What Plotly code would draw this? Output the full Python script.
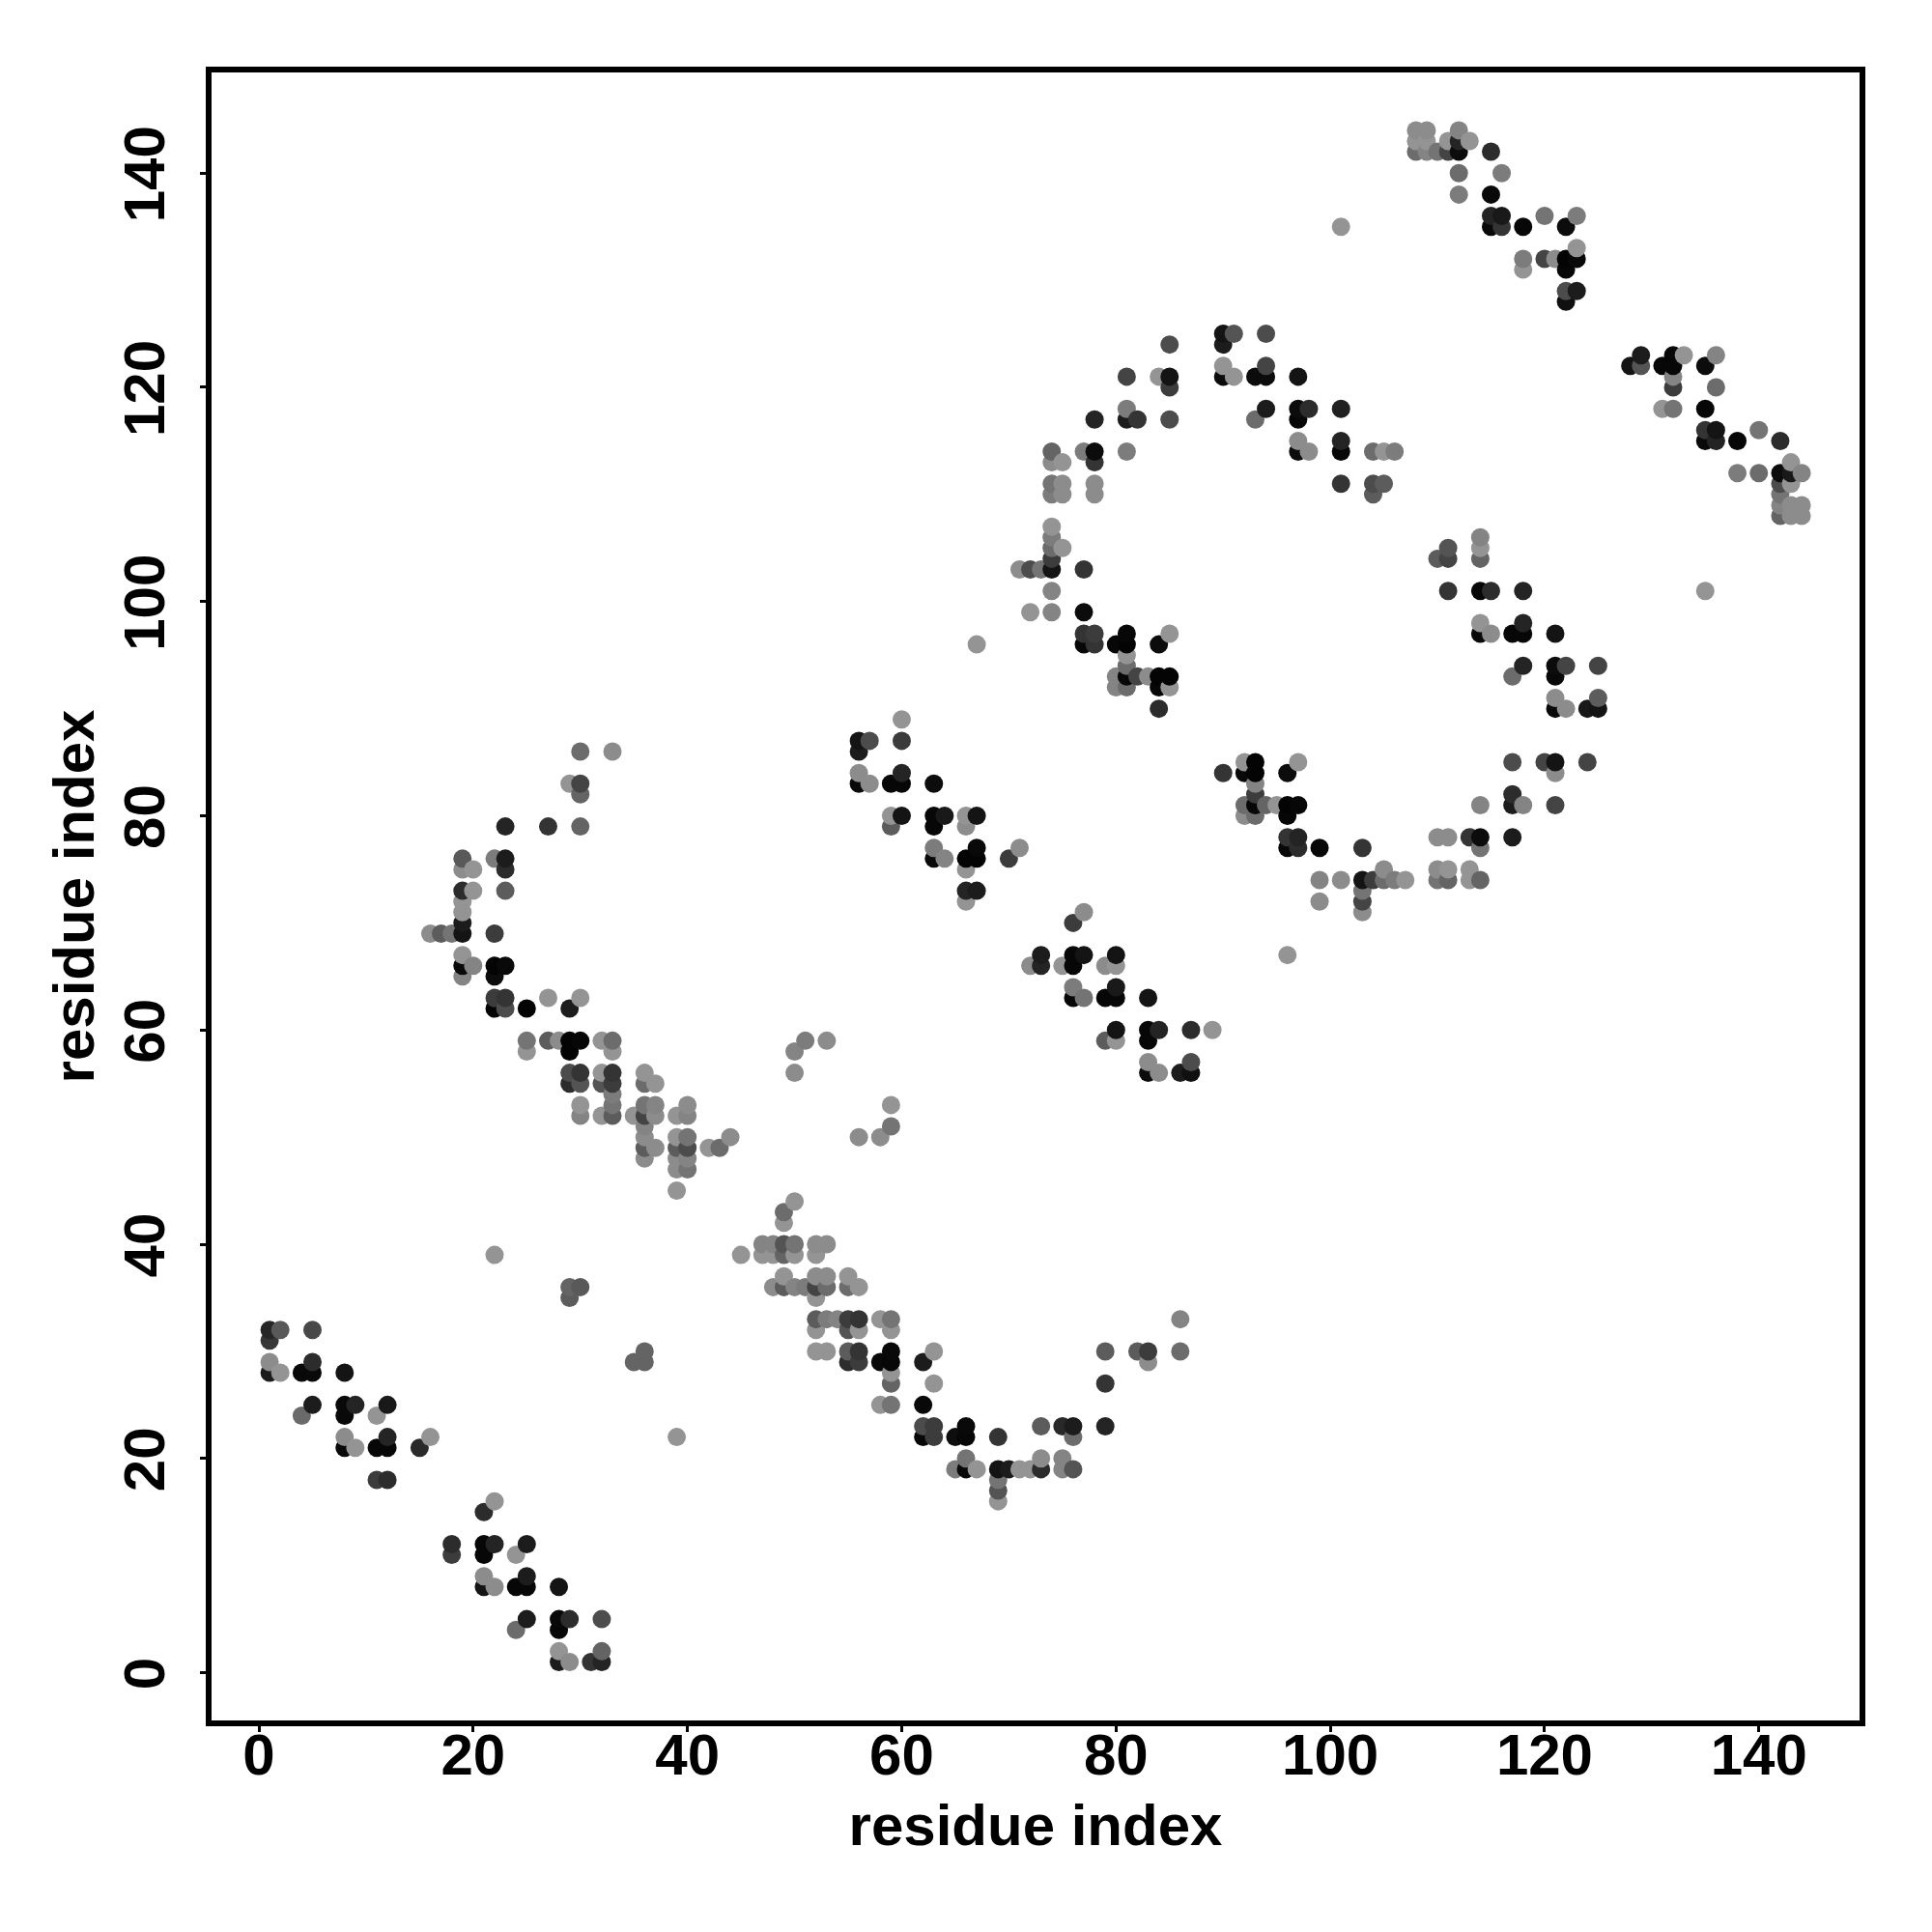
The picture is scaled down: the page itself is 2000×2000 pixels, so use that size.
import plotly.graph_objects as go

# (residue x, residue y, grey level), grouped by region
block_lower_left = [
(1,32,0x22),(2,32,0x55),(5,32,0x44),(1,31,0x33),(1,29,0x88),(2,28,0x90),(1,28,0x18),(4,28,0x05),(5,28,0x05),(5,29,0x28),(8,28,0x10),
(5,25,0x18),(4,24,0x66),(8,25,0x05),(9,25,0x20),(8,24,0x05),(12,25,0x15),(11,24,0x90),(8,22,0x88),(9,21,0x90),(8,21,0x05),(11,21,0x03),(12,21,0x03),(12,22,0x20),(15,21,0x25),(16,22,0x90),
(11,18,0x38),(12,18,0x28),(22,39,0x90),(29,36,0x60),(30,36,0x55),(29,35,0x58),(36,30,0x60),(35,29,0x60),(36,29,0x60),(39,22,0x90),
(22,16,0x90),(21,15,0x28),(18,12,0x28),(18,11,0x38),(21,12,0x03),(22,12,0x20),(21,11,0x03),(25,12,0x18),(24,11,0x90),(21,9,0x88),(22,8,0x88),(21,8,0x10),(24,8,0x03),(25,8,0x03),(25,9,0x18),(28,8,0x10),
(25,5,0x18),(24,4,0x68),(28,5,0x05),(29,5,0x28),(28,4,0x03),(32,5,0x48),(28,2,0x90),(29,1,0x88),(28,1,0x18),(31,1,0x30),(32,1,0x20),(32,2,0x60),
]
block_left_arc = [
(30,86,0x68),(33,86,0x88),(29,83,0x90),(30,83,0x40),(30,82,0x60),(23,79,0x20),(27,79,0x30),(30,79,0x60),
(19,76,0x55),(19,75,0x88),(20,75,0x90),(22,76,0x78),(23,76,0x18),(23,75,0x28),(19,73,0x28),(20,73,0x90),(23,73,0x58),
(19,72,0x90),(19,71,0x90),(19,70,0x18),(19,69,0x10),(22,69,0x38),(16,69,0x88),(17,69,0x58),(18,69,0x70),
(19,67,0x90),(19,66,0x05),(20,66,0x80),(19,65,0x80),(22,66,0x00),(23,66,0x05),(22,65,0x08),
(22,63,0x38),(23,63,0x30),(22,62,0x00),(23,62,0x48),(25,62,0x00),(27,63,0x90),(30,63,0x90),(29,62,0x18),
(25,59,0x70),(25,58,0x90),(27,59,0x58),(28,59,0x88),(29,59,0x00),(30,59,0x03),(29,58,0x00),(32,59,0x90),(33,59,0x68),(33,58,0x90),
(29,56,0x48),(30,56,0x30),(29,55,0x28),(30,55,0x50),(32,56,0x90),(33,56,0x30),(32,55,0x50),(33,55,0x38),(33,54,0x78),(33,53,0x70),(33,52,0x58),(32,52,0x90),(30,53,0x90),(30,52,0x80),
(36,56,0x90),(37,55,0x90),(36,55,0x68),(36,53,0x70),(37,53,0x80),(36,52,0x40),(37,52,0x88),(35,52,0x90),(36,51,0x80),(36,50,0x88),(36,49,0x58),(37,49,0x88),(36,48,0x88),
(40,53,0x88),(40,52,0x80),(39,52,0x90),(39,50,0x90),(40,50,0x70),(39,49,0x58),(40,49,0x48),(39,48,0x88),(40,48,0x80),(39,47,0x88),(40,47,0x70),(39,45,0x90),
(42,49,0x90),(43,49,0x68),(44,50,0x88),(51,59,0x78),(53,59,0x88),(50,58,0x80),(50,56,0x88),(50,44,0x90),(49,43,0x68),
]
block_lower_middle = [
(49,42,0x90),(47,40,0x80),(48,40,0x80),(49,40,0x50),(50,40,0x70),(52,40,0x88),(53,40,0x88),
(45,39,0x90),(47,39,0x90),(48,39,0x90),(49,39,0x60),(50,39,0x90),(52,39,0x90),
(49,37,0x90),(52,37,0x88),(53,37,0x88),(55,37,0x90),(48,36,0x88),(49,36,0x58),(50,36,0x80),(51,36,0x78),(52,36,0x40),(53,36,0x68),(55,36,0x68),(56,36,0x90),(52,35,0x90),
(52,33,0x58),(53,33,0x78),(54,33,0x80),(55,33,0x38),(56,33,0x30),(58,33,0x90),(59,33,0x70),(52,32,0x90),(55,32,0x50),(56,32,0x90),(59,32,0x90),
(52,30,0x90),(53,30,0x90),(55,30,0x58),(56,30,0x30),(59,30,0x05),(63,30,0x90),(55,29,0x28),(56,29,0x38),(58,29,0x05),(59,29,0x03),(62,29,0x18),(59,28,0x90),(59,27,0x60),(63,27,0x90),
(58,25,0x90),(59,25,0x70),(62,25,0x05),(62,23,0x48),(63,23,0x38),(66,23,0x05),(73,23,0x58),(75,23,0x25),(76,23,0x18),(79,23,0x20),
(62,22,0x03),(63,22,0x38),(65,22,0x0a),(66,22,0x03),(69,22,0x30),(76,22,0x68),(66,20,0x70),(73,20,0x88),(75,20,0x80),
(65,19,0x78),(66,19,0x05),(67,19,0x90),(69,19,0x10),(70,19,0x18),(71,19,0x90),(72,19,0x90),(73,19,0x28),(75,19,0x80),(76,19,0x50),
(69,18,0x70),(69,17,0x50),(69,16,0x90),(79,30,0x58),(82,30,0x58),(83,30,0x38),(83,29,0x88),(86,30,0x68),(86,33,0x80),(79,27,0x30),
]
block_center = [
(56,87,0x10),(57,87,0x48),(56,86,0x18),(60,87,0x38),(60,89,0x90),(56,84,0x88),(57,83,0x88),(56,83,0x05),(59,83,0x03),(60,83,0x03),(60,84,0x20),(63,83,0x08),
(59,80,0x90),(60,80,0x10),(63,80,0x03),(64,80,0x15),(66,80,0x90),(67,80,0x10),(59,79,0x58),(63,79,0x03),(66,79,0x88),
(63,77,0x78),(67,77,0x05),(71,77,0x88),(63,76,0x05),(64,76,0x80),(66,76,0x00),(67,76,0x00),(70,76,0x38),(66,75,0x90),(66,73,0x20),(67,73,0x18),(66,72,0x90),
(77,71,0x88),(76,70,0x38),(73,67,0x18),(76,67,0x03),(77,67,0x10),(80,67,0x10),(72,66,0x88),(73,66,0x20),(75,66,0x90),(76,66,0x03),(79,66,0x88),(80,66,0x90),
(76,64,0x78),(80,64,0x15),(76,63,0x03),(77,63,0x70),(79,63,0x03),(80,63,0x03),(83,63,0x10),(80,60,0x10),(83,60,0x03),(84,60,0x20),(87,60,0x28),(89,60,0x90),
(79,59,0x58),(80,59,0x90),(83,59,0x03),(83,57,0x88),(87,57,0x48),(83,56,0x08),(84,56,0x88),(86,56,0x18),(87,56,0x0c),
(59,53,0x90),(59,51,0x70),(58,50,0x88),(56,50,0x88),
]
block_upper_arc = [
(90,125,0x10),(91,125,0x50),(94,125,0x48),(85,124,0x48),(90,124,0x18),(90,122,0x90),(94,122,0x40),
(81,121,0x40),(84,121,0x90),(85,121,0x10),(90,121,0x08),(91,121,0x90),(93,121,0x08),(94,121,0x08),(97,121,0x10),(85,120,0x38),
(81,118,0x78),(94,118,0x18),(97,118,0x08),(98,118,0x28),(101,118,0x1c),(78,117,0x20),(81,117,0x18),(82,117,0x30),(85,117,0x48),(93,117,0x68),(97,117,0x03),
(97,115,0x88),(101,115,0x20),(74,114,0x60),(77,114,0x78),(78,114,0x08),(81,114,0x78),(97,114,0x08),(98,114,0x88),(101,114,0x03),(104,114,0x68),(105,114,0x90),(106,114,0x78),
(74,113,0x88),(75,113,0x90),(78,113,0x30),(74,111,0x70),(75,111,0x88),(78,111,0x88),(101,111,0x30),(104,111,0x48),(105,111,0x58),(74,110,0x78),(75,110,0x88),(78,110,0x88),(104,110,0x58),
(74,107,0x90),(74,106,0x78),(74,105,0x68),(75,105,0x90),(74,104,0x38),(74,103,0x10),(77,103,0x30),(71,103,0x88),(72,103,0x48),(73,103,0x70),(74,101,0x80),(72,99,0x90),(74,99,0x80),(77,99,0x08),
(77,97,0x30),(78,97,0x38),(81,97,0x03),(85,97,0x90),(77,96,0x03),(78,96,0x30),(80,96,0x03),(81,96,0x00),(84,96,0x08),(81,95,0x90),(81,94,0x68),
(80,93,0x80),(81,93,0x03),(82,93,0x40),(83,93,0x88),(84,93,0x00),(85,93,0x00),(80,92,0x80),(81,92,0x68),(84,92,0x03),(85,92,0x90),(84,90,0x28),(67,96,0x90),
]
block_right_arc = [
(114,106,0x80),(111,105,0x50),(114,105,0x90),(110,104,0x58),(111,104,0x40),(114,104,0x60),(111,101,0x30),(114,101,0x03),(115,101,0x28),(118,101,0x20),
(114,98,0x90),(118,98,0x20),(114,97,0x05),(115,97,0x88),(117,97,0x03),(118,97,0x03),(121,97,0x10),(118,94,0x20),(121,94,0x08),(122,94,0x40),(125,94,0x40),(117,93,0x68),(121,93,0x05),
(121,91,0x88),(125,91,0x58),(121,90,0x05),(122,90,0x88),(124,90,0x15),(125,90,0x10),
(117,85,0x48),(120,85,0x40),(121,85,0x10),(124,85,0x40),(92,85,0x90),(93,85,0x00),(97,85,0x90),(90,84,0x30),(92,84,0x05),(93,84,0x00),(96,84,0x08),(121,84,0x88),
(93,83,0x80),(93,82,0x38),(117,82,0x28),(92,81,0x68),(93,81,0x03),(94,81,0x60),(95,81,0x90),(96,81,0x00),(97,81,0x03),(114,81,0x80),(117,81,0x18),(118,81,0x80),(121,81,0x40),
(92,80,0x88),(93,80,0x68),(96,80,0x03),(96,78,0x30),(97,78,0x20),(110,78,0x88),(111,78,0x88),(113,78,0x30),(114,78,0x08),(117,78,0x18),
(96,77,0x03),(97,77,0x28),(99,77,0x03),(103,77,0x30),(114,77,0x70),(105,75,0x88),(110,75,0x88),(111,75,0x90),(113,75,0x90),
(99,74,0x80),(101,74,0x88),(103,74,0x10),(104,74,0x38),(105,74,0x68),(106,74,0x78),(107,74,0x90),(110,74,0x70),(111,74,0x60),(113,74,0x90),(114,74,0x60),
(103,73,0x70),(99,72,0x88),(103,72,0x40),(103,71,0x88),(96,67,0x90),(135,101,0x90),
]
block_upper_right = [
(108,144,0x88),(109,144,0x88),(112,144,0x80),(108,143,0x90),(109,143,0x90),(111,143,0x90),(113,143,0x90),(112,143,0x20),
(108,142,0x68),(109,142,0x80),(110,142,0x70),(111,142,0x40),(112,142,0x08),(115,142,0x28),(112,140,0x68),(116,140,0x78),(112,138,0x78),(115,138,0x05),
(115,136,0x20),(116,136,0x15),(120,136,0x70),(123,136,0x78),(115,135,0x05),(116,135,0x30),(118,135,0x03),(122,135,0x08),(123,133,0x90),
(118,132,0x78),(120,132,0x40),(121,132,0x88),(122,132,0x00),(123,132,0x05),(118,131,0x90),(122,131,0x03),(122,129,0x48),(123,129,0x18),(122,128,0x0c),
(129,123,0x18),(132,123,0x03),(133,123,0x90),(136,123,0x80),(128,122,0x10),(129,122,0x50),(131,122,0x03),(132,122,0x03),(135,122,0x08),(132,121,0x80),(132,120,0x38),(136,120,0x68),
(131,118,0x90),(132,118,0x70),(135,118,0x03),(135,116,0x30),(136,116,0x10),(140,116,0x70),(135,115,0x05),(136,115,0x20),(138,115,0x03),(142,115,0x28),
(143,113,0x90),(138,112,0x78),(140,112,0x68),(142,112,0x08),(143,112,0x15),(144,112,0x80),(142,111,0x48),(143,111,0x90),(142,110,0x70),(142,109,0x80),(143,109,0x88),(144,109,0x88),
(142,108,0x60),(143,108,0x88),(144,108,0x88),(101,135,0x90),
]
tick_values = [0, 20, 40, 60, 80, 100, 120, 140]
axis_label = "residue index"

# Drawn column by column, rising within a column, as in the reference overlaps
contacts = sorted(set(block_lower_left + block_left_arc + block_lower_middle + block_center
                      + block_upper_arc + block_right_arc + block_upper_right),
                  key=lambda p: (p[0], p[1]))
residue_x = [p[0] for p in contacts]
residue_y = [p[1] for p in contacts]
grey = [f"rgb({p[2]+4},{p[2]+4},{p[2]+4})" for p in contacts]

font = "Liberation Sans"
fig = go.Figure(go.Scatter(x=residue_x, y=residue_y, mode="markers",
                           marker=dict(size=19, color=grey, line=dict(width=0))))
axis = dict(showgrid=False, zeroline=False, showline=True, mirror=True, linecolor="black", linewidth=6,
            ticks="outside", ticklen=6, tickwidth=3, tickcolor="black", tickvals=tick_values,
            tickfont=dict(family=font, size=60, color="black", weight="bold"), automargin=False)
fig.update_xaxes(**axis, range=[-4.42, 149.4], ticklabelstandoff=-28,
                 title=dict(text=f"<b>{axis_label}</b>", font=dict(family=font, size=60, color="black"), standoff=21))
fig.update_yaxes(**axis, range=[-4.46, 149.4], tickangle=-90, ticklabelstandoff=13, ticklabelshift=10,
                 title=dict(text=f"<b>{axis_label}</b>", font=dict(family=font, size=60, color="black"), standoff=1))
fig.update_layout(width=2000, height=2000, autosize=False, plot_bgcolor="white", paper_bgcolor="white",
                  showlegend=False, margin=dict(l=211, r=83, t=67, b=227))
fig.write_html("out.html")
